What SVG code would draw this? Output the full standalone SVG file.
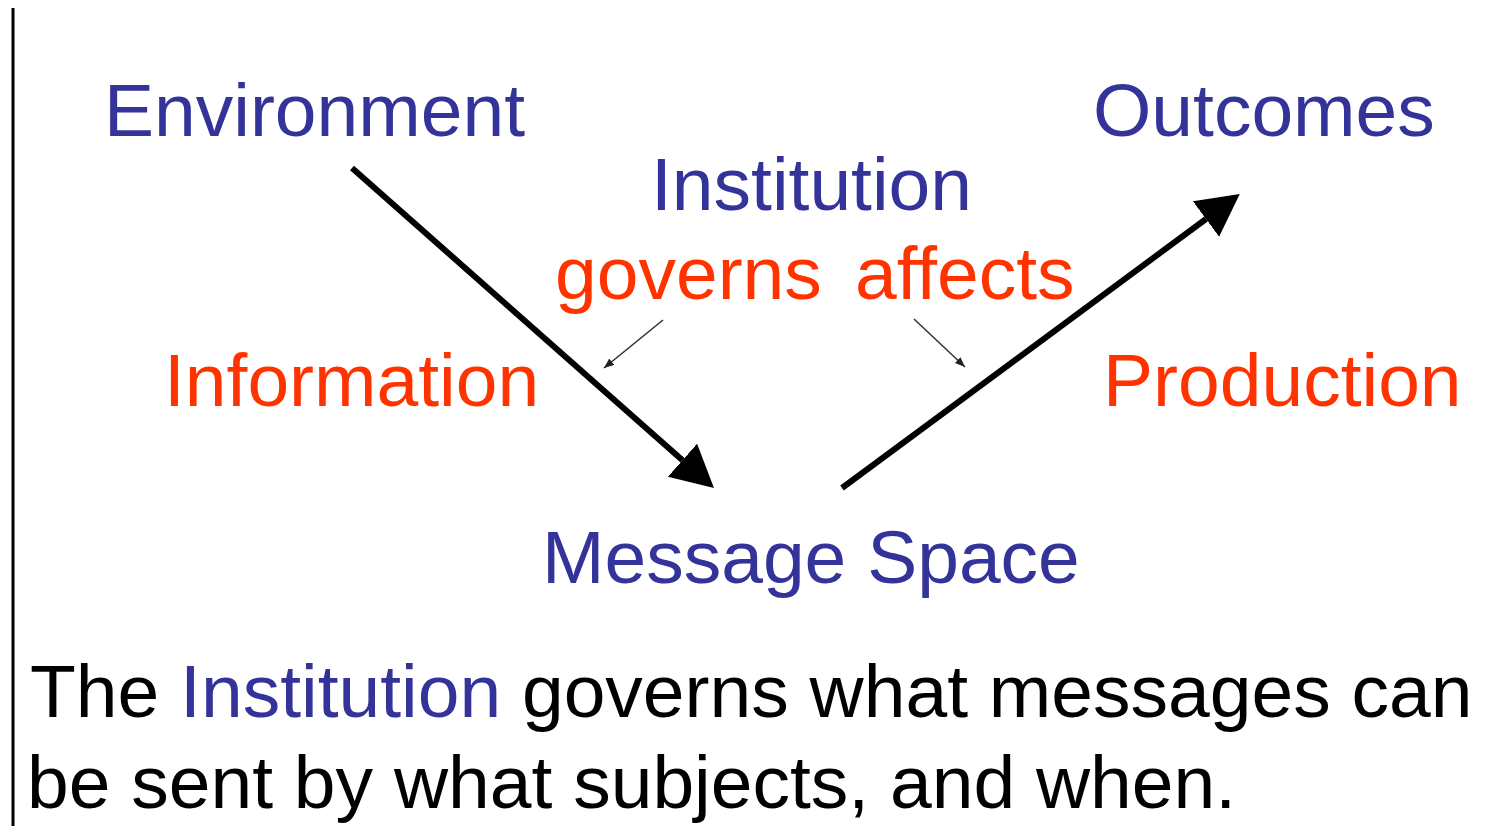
<svg xmlns="http://www.w3.org/2000/svg" width="1497" height="826" viewBox="0 0 1497 826">
<style>
text{font-family:"Liberation Sans",Arial,sans-serif;font-size:75px}
.b{fill:#333399}
.r{fill:#FF3300}
.k{fill:#000000}
.big{stroke:#000;stroke-width:6;fill:none}
.thin{stroke:#333;stroke-width:1.6;fill:none}
</style>
<defs>
<marker id="ah" markerUnits="userSpaceOnUse" markerWidth="44" markerHeight="46" refX="0" refY="22" orient="auto" viewBox="0 0 44 46">
<path d="M0,0 L42,22 L0,44 Z" fill="#000"/>
</marker>
<marker id="as" markerUnits="userSpaceOnUse" markerWidth="12" markerHeight="10" refX="10" refY="4" orient="auto" viewBox="0 0 12 10">
<path d="M0,0 L10,4 L0,8 Z" fill="#222"/>
</marker>
</defs>
<rect width="1497" height="826" fill="#fff"/>
<line x1="13" y1="8" x2="13" y2="826" stroke="#000" stroke-width="3"/>
<g id="environment"><text class="b" x="104" y="136">Environment</text></g>
<g id="outcomes"><text class="b" x="1093" y="136">Outcomes</text></g>
<g id="institution"><text class="b" x="651" y="210">Institution</text></g>
<g id="governs"><text class="r" x="555" y="299">governs</text></g>
<g id="affects"><text class="r" x="855" y="299">affects</text></g>
<g id="information"><text class="r" x="164" y="406">Information</text></g>
<g id="production"><text class="r" x="1103" y="406">Production</text></g>
<g id="message-space"><text class="b" x="542" y="583">Message Space</text></g>
<g id="caption">
<text class="k" x="30" y="717">The <tspan class="b">Institution</tspan> governs what messages can</text>
<text class="k" x="27" y="808">be sent by what subjects, and when.</text>
</g>
<g id="connectors">
<line class="big" x1="352" y1="168" x2="682.5" y2="460.2" marker-end="url(#ah)"/>
<line class="big" x1="842" y1="488" x2="1206" y2="219" marker-end="url(#ah)"/>
<line class="thin" x1="663" y1="320" x2="604" y2="368" marker-end="url(#as)"/>
<line class="thin" x1="914" y1="319" x2="965" y2="367" marker-end="url(#as)"/>
</g>
</svg>
